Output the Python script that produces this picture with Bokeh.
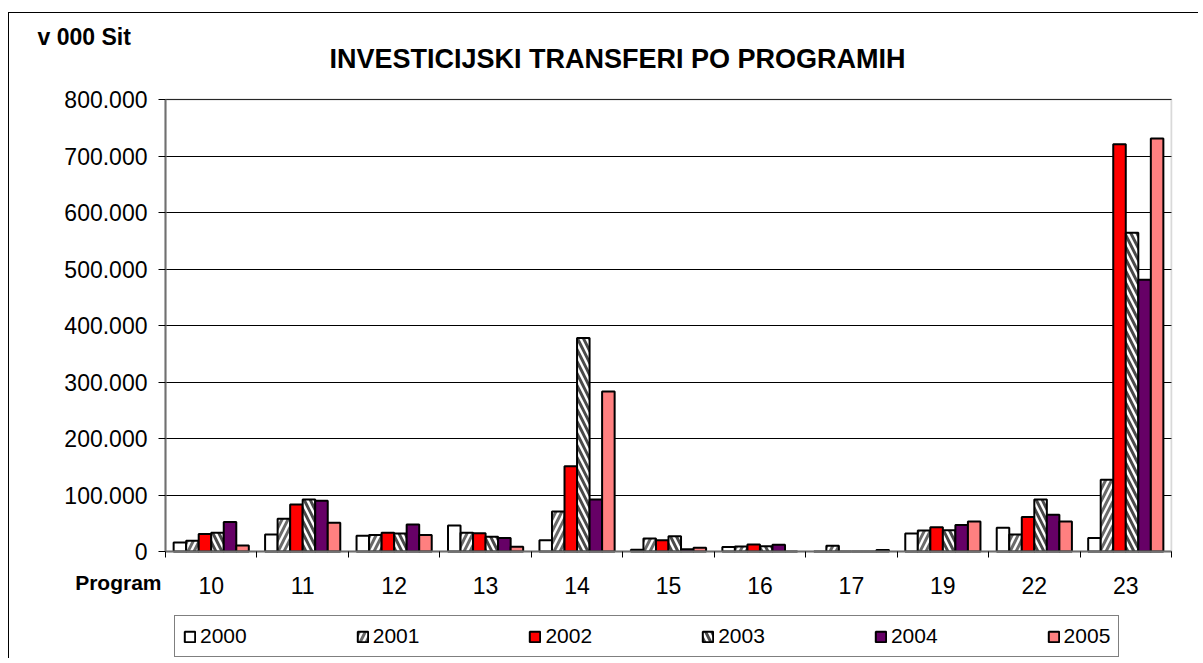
from bokeh.plotting import figure
from bokeh.models import (ColumnDataSource, Range1d, FixedTicker, Legend, LegendItem, Label,
                          BoxAnnotation)
from bokeh.transform import dodge
from bokeh.embed import file_html
from bokeh.resources import INLINE

programs = ["10", "11", "12", "13", "14", "15", "16", "17", "19", "22", "23"]
years = ["2000", "2001", "2002", "2003", "2004", "2005"]
y2000 = [16000, 30000, 28000, 46000, 20000, 3000, 8000, 0, 32000, 42000, 24000]
y2001 = [19000, 58000, 29000, 33000, 71000, 23000, 9000, 10000, 37000, 30000, 127000]
y2002 = [31000, 83000, 33000, 32500, 151000, 20000, 12500, 0, 43000, 61000, 721000]
y2003 = [33000, 92000, 32000, 26000, 378000, 27000, 9500, 0, 37500, 92000, 564000]
y2004 = [52000, 90000, 48000, 24000, 92000, 4000, 12000, 0, 47000, 65000, 481000]
y2005 = [10500, 51000, 29000, 8500, 283000, 6500, 0, 2500, 53000, 53000, 731000]
y_ticks = [0, 100000, 200000, 300000, 400000, 500000, 600000, 700000, 800000]
y_tick_labels = ["0", "100.000", "200.000", "300.000", "400.000", "500.000",
                 "600.000", "700.000", "800.000"]
title_text = "INVESTICIJSKI TRANSFERI PO PROGRAMIH"
unit_text = "v 000 Sit"
x_title = "Program"

series = [y2000, y2001, y2002, y2003, y2004, y2005]
styles = [
    dict(fill_color="white"),
    dict(fill_color="white", hatch_pattern="/", hatch_color="#6a6a6a", hatch_weight=3, hatch_scale=12),
    dict(fill_color="#FF0000"),
    dict(fill_color="white", hatch_pattern="\\", hatch_color="#4a4a4a", hatch_weight=3, hatch_scale=12),
    dict(fill_color="#660066"),
    dict(fill_color="#FF8080"),
]

data = {"idx": list(range(len(programs)))}
for yr, vals in zip(years, series):
    data["y" + yr] = vals
source = ColumnDataSource(data)

FONT = "Liberation Sans"

# ---- layout (pixels inside the canvas / frame) ----
W, H = 1190, 646
RIGHT_PAD = 27
FRAME_W = W - RIGHT_PAD
PA_LEFT, PA_RIGHT, PA_TOP, PA_BOTTOM = 156, 1162, 86, 538   # plot area in frame px
n = len(programs)
ymax = y_ticks[-1]
px_per_x = (PA_RIGHT - PA_LEFT) / n
x_start = -0.5 - PA_LEFT / px_per_x
x_end = -0.5 + (FRAME_W - PA_LEFT) / px_per_x
val_per_px = ymax / (PA_BOTTOM - PA_TOP)
y_start = -(H - PA_BOTTOM) * val_per_px
y_end = ymax + PA_TOP * val_per_px

p = figure(width=W, height=H, output_backend="svg", toolbar_location=None,
           x_range=Range1d(x_start, x_end), y_range=Range1d(y_start, y_end),
           min_border_left=0, min_border_right=RIGHT_PAD, min_border_top=0, min_border_bottom=0)
p.title.visible = False
p.styles = {"border-left": "1px solid black", "border-top": "1px solid black",
            "margin-top": "12px", "margin-left": "8px"}
p.background_fill_color = "white"
p.border_fill_color = "white"
p.outline_line_color = None

bw = 0.137
items = []
for k, yr in enumerate(years):
    off = (k - 2.5) * bw
    r = p.vbar(x=dodge("idx", off, range=p.x_range), top="y" + yr, bottom=0, width=bw,
               source=source, line_color="black", line_width=2, **styles[k])
    items.append(LegendItem(label=yr, renderers=[r]))

# plot-area border (grey)
p.add_layout(BoxAnnotation(left=-0.5, right=n - 0.5, bottom=0, top=ymax,
                           fill_alpha=0, line_color="#808080", line_width=2, level="underlay"))

# axes at fixed locations
p.xaxis.fixed_location = 0
p.xaxis.bounds = (-0.5, n - 0.5)
p.xaxis.ticker = FixedTicker(ticks=list(range(n)), minor_ticks=[i - 0.5 for i in range(n + 1)])
p.xaxis.major_label_overrides = {i: lab for i, lab in enumerate(programs)}
p.xaxis.major_tick_line_color = None
p.xaxis.major_tick_out = 0
p.xaxis.major_tick_in = 0
p.xaxis.minor_tick_line_color = "black"
p.xaxis.minor_tick_out = 6
p.xaxis.minor_tick_in = 0
p.xaxis.major_label_standoff = 19
p.xaxis.axis_line_color = "#707070"
p.xaxis.axis_line_width = 2

p.yaxis.fixed_location = -0.5
p.yaxis.bounds = (0, ymax)
p.yaxis.ticker = FixedTicker(ticks=y_ticks, minor_ticks=[])
p.yaxis.major_label_overrides = {t: l for t, l in zip(y_ticks, y_tick_labels)}
p.yaxis.major_tick_out = 7
p.yaxis.major_tick_in = 0
p.yaxis.major_tick_line_color = "black"
p.yaxis.major_label_standoff = 11
p.yaxis.axis_line_color = "#707070"
p.yaxis.axis_line_width = 2

for ax in (p.xaxis, p.yaxis):
    ax.major_label_text_font = FONT
    ax.major_label_text_font_size = "23px"
    ax.major_label_text_color = "black"

p.xgrid.grid_line_color = None
g = p.ygrid[0]
g.ticker = FixedTicker(ticks=y_ticks)
g.grid_line_color = "black"
g.grid_line_width = 1
if "cross_bounds" in g.properties():
    g.cross_bounds = (-0.5, n - 0.5)
else:
    g.grid_line_color = None
    p.segment(x0=-0.5, x1=n - 0.5, y0=y_ticks, y1=y_ticks, line_color="black", line_width=1)

# texts
p.add_layout(Label(x=-0.5, y=ymax, x_offset=164, y_offset=41, text=title_text,
                   text_font=FONT, text_font_size="27px", text_font_style="bold",
                   text_color="black", text_align="left", text_baseline="middle"))
p.add_layout(Label(x=-0.5, y=ymax, x_offset=-128, y_offset=63, text=unit_text,
                   text_font=FONT, text_font_size="23px", text_font_style="bold",
                   text_color="black", text_align="left", text_baseline="middle"))
p.add_layout(Label(x=-0.5, y=0, x_offset=-4, y_offset=-31, text=x_title,
                   text_font=FONT, text_font_size="21px", text_font_style="bold",
                   text_color="black", text_align="right", text_baseline="middle"))

legend = Legend(items=items, orientation="horizontal", location=(165, 2),
                padding=8, spacing=109, glyph_width=13, glyph_height=13,
                label_height=13, label_standoff=4,
                label_text_font=FONT, label_text_font_size="21px", label_text_color="black",
                border_line_color="black", border_line_width=1,
                background_fill_color="white", background_fill_alpha=1.0, margin=0)
p.add_layout(legend, "center")

open("out.html", "w").write(file_html(p, INLINE))
